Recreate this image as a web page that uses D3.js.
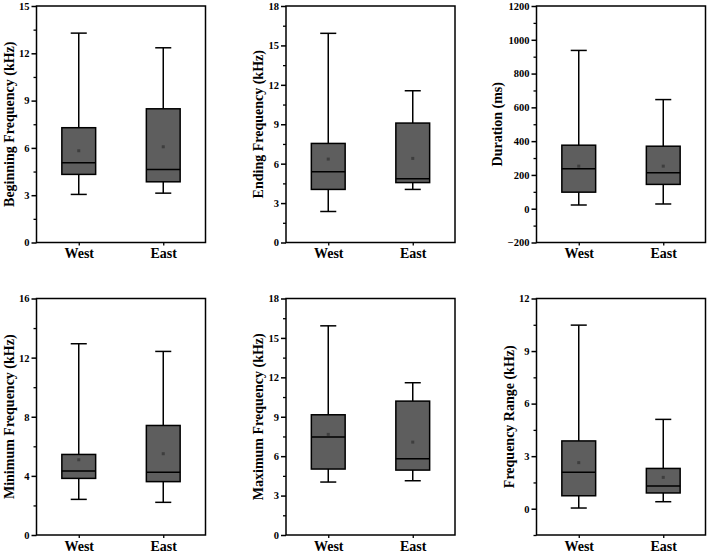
<!DOCTYPE html>
<html>
<head>
<meta charset="utf-8">
<script src="https://cdn.jsdelivr.net/npm/d3@7"></script>
<style>
  body { margin: 0; background: #fff; }
  svg { display: block; }
  text { font-family: "Liberation Serif", "Times New Roman", serif; font-weight: bold; fill: #000; }
</style>
</head>
<body>
<div id="chart"></div>
<script>
// groups on the x axis
var groups = ["West", "East"];

// one entry per panel, in reading order
var titles = ["Beginning Frequency (kHz)", "Ending Frequency (kHz)", "Duration (ms)",
              "Minimum Frequency (kHz)", "Maximum Frequency (kHz)", "Frequency Range (kHz)"];
var yDomains = [[0, 15], [0, 18], [-200, 1200], [0, 16], [0, 18], [-1.5, 12]];
var yMajor = [3, 3, 200, 4, 3, 3];

// box statistics, [West, East] per panel
var whiskerLow  = [[3.05, 3.13], [2.36, 4.04], [22, 28],   [2.41, 2.21], [4.03, 4.13], [0.04, 0.40]];
var q1          = [[4.32, 3.85], [4.04, 4.56], [98, 144],  [3.83, 3.61], [5.02, 4.94], [0.74, 0.90]];
var medians     = [[5.06, 4.63], [5.38, 4.86], [236, 213], [4.33, 4.24], [7.45, 5.81], [2.08, 1.30]];
var q3          = [[7.28, 8.48], [7.54, 9.09], [376, 370], [5.45, 7.41], [9.15, 10.19], [3.87, 2.30]];
var whiskerHigh = [[13.28, 12.35], [15.92, 11.55], [937, 646], [12.94, 12.42], [15.92, 11.59], [10.48, 5.10]];
var means       = [[5.82, 6.07], [6.35, 6.40], [252, 252], [5.09, 5.50], [7.66, 7.07], [2.63, 1.79]];

var W = 709, H = 555;
var colLeft = [36.5, 286, 536.5],
    rowTop = [6, 298.5],
    pw = 169, ph = 236.5;

var BOX_FILL = "#5e5e5e",
    MEAN_FILL = "#3e3e3e";

var svg = d3.select("#chart").append("svg")
    .attr("width", W)
    .attr("height", H);

titles.forEach(function(title, i) {
  var left = colLeft[i % 3], top = rowTop[Math.floor(i / 3)];
  var g = svg.append("g").attr("transform", "translate(" + left + "," + top + ")");

  var x = d3.scaleLinear().domain([0.5, 2.5]).range([0, pw]);
  var y = d3.scaleLinear().domain(yDomains[i]).range([ph, 0]);

  var step = yMajor[i];
  var d0 = yDomains[i][0], d1 = yDomains[i][1];
  var major = d3.range(Math.ceil(d0 / step) * step, d1 + 1e-9, step);
  var minor = d3.range(Math.ceil(d0 / (step / 2)) * (step / 2), d1 + 1e-9, step / 2)
    .filter(function(v) { return Math.abs(v / step - Math.round(v / step)) > 1e-6; });

  // minor ticks first, then the labelled axis
  g.append("g")
      .call(d3.axisLeft(y).tickValues(minor).tickSize(3).tickFormat(""))
      .call(function(a) { a.select(".domain").remove(); a.selectAll("line").attr("stroke-width", 1.3); });

  var yAxis = g.append("g")
      .call(d3.axisLeft(y).tickValues(major).tickSize(5).tickPadding(2)
        .tickFormat(function(v) { return v < 0 ? "\u2212" + Math.abs(v) : v; }));
  yAxis.attr("font-family", null).attr("font-size", null);
  yAxis.select(".domain").remove();
  yAxis.selectAll("line").attr("stroke-width", 1.5);
  yAxis.selectAll("text")
      .style("font-size", "10.5px")
      .style("font-family", "'Liberation Serif'")
      .style("font-weight", "bold");

  var xAxis = g.append("g")
      .attr("transform", "translate(0," + ph + ")")
      .call(d3.axisBottom(x).tickValues([1, 2]).tickSize(3).tickPadding(3)
        .tickFormat(function(v) { return groups[v - 1]; }));
  xAxis.attr("font-family", null).attr("font-size", null);
  xAxis.select(".domain").remove();
  xAxis.selectAll("line").attr("stroke-width", 1.3);
  xAxis.selectAll("text")
      .style("font-size", "14px")
      .style("font-family", "'Liberation Serif'")
      .style("font-weight", "bold");

  // y title, placed beside the widest tick label
  var maxW = 0;
  yAxis.selectAll("text").each(function() { maxW = Math.max(maxW, this.getComputedTextLength()); });
  g.append("text")
      .attr("transform", "translate(" + (-(maxW + 12.5)) + "," + (ph / 2) + ") rotate(-90)")
      .attr("text-anchor", "middle")
      .style("font-size", "14px")
      .text(title);

  var boxW = pw * 0.2, capW = pw * 0.095;

  groups.forEach(function(name, j) {
    var cx = x(j + 1);
    var b = g.append("g");

    // whisker stems
    b.append("line")
        .attr("x1", cx).attr("x2", cx)
        .attr("y1", y(whiskerHigh[i][j])).attr("y2", y(q3[i][j]))
        .attr("stroke", "#000").attr("stroke-width", 1.5);
    b.append("line")
        .attr("x1", cx).attr("x2", cx)
        .attr("y1", y(q1[i][j])).attr("y2", y(whiskerLow[i][j]))
        .attr("stroke", "#000").attr("stroke-width", 1.5);
    // caps
    [whiskerHigh[i][j], whiskerLow[i][j]].forEach(function(v) {
      b.append("line")
          .attr("x1", cx - capW / 2).attr("x2", cx + capW / 2)
          .attr("y1", y(v)).attr("y2", y(v))
          .attr("stroke", "#000").attr("stroke-width", 1.5);
    });
    // box
    b.append("rect")
        .attr("x", cx - boxW / 2)
        .attr("y", y(q3[i][j]))
        .attr("width", boxW)
        .attr("height", y(q1[i][j]) - y(q3[i][j]))
        .attr("fill", BOX_FILL)
        .attr("stroke", "#000")
        .attr("stroke-width", 1.5);
    // median
    b.append("line")
        .attr("x1", cx - boxW / 2).attr("x2", cx + boxW / 2)
        .attr("y1", y(medians[i][j])).attr("y2", y(medians[i][j]))
        .attr("stroke", "#000").attr("stroke-width", 1.5);
    // mean
    b.append("rect")
        .attr("x", cx - 1.5).attr("y", y(means[i][j]) - 1.5)
        .attr("width", 3).attr("height", 3)
        .attr("fill", MEAN_FILL);
  });

  // frame
  g.append("rect")
      .attr("width", pw).attr("height", ph)
      .attr("fill", "none")
      .attr("stroke", "#000")
      .attr("stroke-width", 1.5);
});
</script>
</body>
</html>
